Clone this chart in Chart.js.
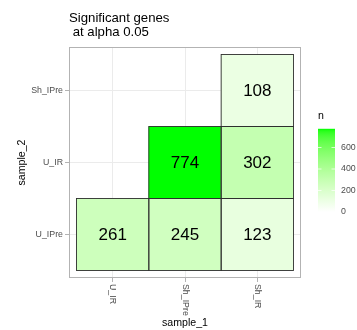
<!DOCTYPE html>
<html>
<head>
<meta charset="utf-8">
<script src="https://cdn.jsdelivr.net/npm/chart.js@4/dist/chart.umd.min.js"></script>
<style>
  html, body { margin: 0; padding: 0; background: #ffffff; }
  #wrap { width: 357px; height: 330px; }
</style>
</head>
<body>
<div id="wrap"><canvas id="heat" width="357" height="330"></canvas></div>
<script>
// Axis categories
const sample1 = ['U_IR', 'Sh_IPre', 'Sh_IR'];
const sample2 = ['U_IPre', 'U_IR', 'Sh_IPre'];

// One entry per tile: which pair, and how many significant genes
const cellSample1 = ['U_IR', 'Sh_IPre', 'Sh_IR', 'Sh_IPre', 'Sh_IR', 'Sh_IR'];
const cellSample2 = ['U_IPre', 'U_IPre', 'U_IPre', 'U_IR', 'U_IR', 'Sh_IPre'];
const nGenes = [261, 245, 123, 774, 302, 108];

// Colour scale
const nLimits = [0, 774];
const nTicks = [0, 200, 400, 600];
const lowColour = [255, 255, 255];
const highColour = [0, 255, 0];

const FONT = "'Liberation Sans', Arial, Helvetica, sans-serif";

// --- Lab interpolation between the low and high colours ---
function toLin(c) { c /= 255; return c <= 0.04045 ? c / 12.92 : Math.pow((c + 0.055) / 1.055, 2.4); }
function fromLin(c) {
  const v = c <= 0.0031308 ? 12.92 * c : 1.055 * Math.pow(c, 1 / 2.4) - 0.055;
  return Math.round(Math.max(0, Math.min(1, v)) * 255);
}
const WX = 0.95047, WY = 1.0, WZ = 1.08883;
function rgbToLab(rgb) {
  const R = toLin(rgb[0]), G = toLin(rgb[1]), B = toLin(rgb[2]);
  const X = (0.4124564 * R + 0.3575761 * G + 0.1804375 * B) / WX;
  const Y = (0.2126729 * R + 0.7151522 * G + 0.0721750 * B) / WY;
  const Z = (0.0193339 * R + 0.1191920 * G + 0.9503041 * B) / WZ;
  const f = t => t > 0.008856 ? Math.cbrt(t) : 7.787 * t + 16 / 116;
  const fx = f(X), fy = f(Y), fz = f(Z);
  return [116 * fy - 16, 500 * (fx - fy), 200 * (fy - fz)];
}
function labToRgb(lab) {
  const fy = (lab[0] + 16) / 116, fx = fy + lab[1] / 500, fz = fy - lab[2] / 200;
  const inv = t => { const t3 = t * t * t; return t3 > 0.008856 ? t3 : (t - 16 / 116) / 7.787; };
  const X = inv(fx) * WX, Y = inv(fy) * WY, Z = inv(fz) * WZ;
  const R = 3.2404542 * X - 1.5371385 * Y - 0.4985314 * Z;
  const G = -0.9692660 * X + 1.8760108 * Y + 0.0415560 * Z;
  const B = 0.0556434 * X - 0.2040259 * Y + 1.0572252 * Z;
  return [fromLin(R), fromLin(G), fromLin(B)];
}
const labLow = rgbToLab(lowColour), labHigh = rgbToLab(highColour);
function fillFor(n) {
  const t = Math.max(0, Math.min(1, (n - nLimits[0]) / (nLimits[1] - nLimits[0])));
  const lab = labLow.map((v, i) => v + (labHigh[i] - v) * t);
  const c = labToRgb(lab);
  return 'rgb(' + c[0] + ',' + c[1] + ',' + c[2] + ')';
}

// Tiles as floating bars: x = column index, y = [row - 0.5, row + 0.5]
const tiles = nGenes.map((n, i) => {
  const r = sample2.indexOf(cellSample2[i]);
  return { x: sample1.indexOf(cellSample1[i]), y: [r - 0.5, r + 0.5], n: n };
});

const PAD = 0.604;

const decorations = {
  id: 'decorations',
  afterDatasetsDraw(chart) {
    const ctx = chart.ctx;
    const meta = chart.getDatasetMeta(0);
    ctx.save();
    meta.data.forEach((el, i) => {
      const p = el.getProps(['x', 'y', 'base', 'width'], true);
      const top = Math.min(p.y, p.base), h = Math.abs(p.base - p.y);
      ctx.strokeStyle = '#2e2e2e';
      ctx.lineWidth = 0.9;
      ctx.strokeRect(p.x - p.width / 2, top, p.width, h);
      ctx.fillStyle = '#000000';
      ctx.font = '17px ' + FONT;
      ctx.textAlign = 'center';
      ctx.textBaseline = 'middle';
      ctx.fillText(String(tiles[i].n), p.x, top + h / 2 + 1);
    });
    ctx.restore();
  },
  afterDraw(chart) {
    const ctx = chart.ctx;
    const a = chart.chartArea;
    const xs = chart.scales.x;
    ctx.save();

    // panel border
    ctx.strokeStyle = '#b3b3b3';
    ctx.lineWidth = 1;
    ctx.strokeRect(a.left + 0.5, a.top + 0.5, a.right - a.left - 1, a.bottom - a.top - 1);

    // x tick labels, turned to read downwards
    ctx.fillStyle = '#4d4d4d';
    ctx.font = '8.8px ' + FONT;
    ctx.textAlign = 'left';
    ctx.textBaseline = 'middle';
    sample1.forEach((lab, i) => {
      const px = xs.getPixelForValue(i);
      ctx.save();
      ctx.translate(px, a.bottom + 6);
      ctx.rotate(Math.PI / 2);
      ctx.fillText(lab, 0, 0);
      ctx.restore();
    });

    // title
    ctx.fillStyle = '#000000';
    ctx.font = '13.2px ' + FONT;
    ctx.textAlign = 'left';
    ctx.textBaseline = 'middle';
    ctx.fillText('Significant genes', a.left, 18);
    ctx.fillText(' at alpha 0.05', a.left, 32);

    // axis titles
    ctx.font = '10.6px ' + FONT;
    ctx.textAlign = 'center';
    ctx.fillText('sample_1', (a.left + a.right) / 2, 323);
    ctx.save();
    ctx.translate(22, (a.top + a.bottom) / 2);
    ctx.rotate(-Math.PI / 2);
    ctx.fillText('sample_2', 0, 0);
    ctx.restore();

    // colour bar legend
    const barL = 318, barW = 17, barBottom = 212, pxPerUnit = 0.1075;
    const barTop = barBottom - (nLimits[1] - nLimits[0]) * pxPerUnit;
    const grad = ctx.createLinearGradient(0, barBottom, 0, barTop);
    for (let k = 0; k <= 40; k++) {
      const v = nLimits[0] + (nLimits[1] - nLimits[0]) * k / 40;
      grad.addColorStop(k / 40, fillFor(v));
    }
    ctx.fillStyle = grad;
    ctx.fillRect(barL, barTop, barW, barBottom - barTop);

    ctx.strokeStyle = 'rgba(255,255,255,0.9)';
    ctx.lineWidth = 0.8;
    ctx.font = '8.8px ' + FONT;
    ctx.textAlign = 'left';
    ctx.textBaseline = 'middle';
    nTicks.forEach(v => {
      const py = barBottom - (v - nLimits[0]) * pxPerUnit;
      ctx.beginPath();
      ctx.moveTo(barL, py); ctx.lineTo(barL + 3.5, py);
      ctx.moveTo(barL + barW - 3.5, py); ctx.lineTo(barL + barW, py);
      ctx.stroke();
      ctx.fillStyle = '#4d4d4d';
      ctx.fillText(String(v), 341, py);
    });
    ctx.fillStyle = '#000000';
    ctx.font = '10.6px ' + FONT;
    ctx.fillText('n', barL, 116);

    ctx.restore();
  }
};

new Chart(document.getElementById('heat'), {
  type: 'bar',
  data: {
    datasets: [{
      data: tiles,
      backgroundColor: c => fillFor(c.raw ? c.raw.n : 0),
      borderWidth: 0,
      barPercentage: 1,
      categoryPercentage: 1
    }]
  },
  options: {
    responsive: false,
    animation: false,
    events: [],
    layout: { padding: { top: 47, right: 56, left: 0, bottom: 0 } },
    plugins: { legend: { display: false }, tooltip: { enabled: false }, title: { display: false } },
    scales: {
      x: {
        type: 'linear',
        offset: false,
        bounds: 'data',
        min: -PAD, max: sample1.length - 1 + PAD,
        afterBuildTicks: s => { s.ticks = sample1.map((_, i) => ({ value: i })); },
        afterFit: s => { s.height = 52; },
        grid: { offset: false, color: '#ebebeb', lineWidth: 1, tickColor: '#b3b3b3', tickLength: 4 },
        border: { display: false },
        ticks: { display: false }
      },
      y: {
        type: 'linear',
        offset: false,
        bounds: 'data',
        min: -PAD, max: sample2.length - 1 + PAD,
        afterBuildTicks: s => { s.ticks = sample2.map((_, i) => ({ value: i })); },
        afterFit: s => { s.width = 69; },
        grid: { offset: false, color: '#ebebeb', lineWidth: 1, tickColor: '#b3b3b3', tickLength: 4 },
        border: { display: false },
        ticks: {
          color: '#4d4d4d',
          font: { family: FONT, size: 8.8 },
          padding: 2,
          callback: v => sample2[v] !== undefined ? sample2[v] : ''
        }
      }
    }
  },
  plugins: [decorations]
});
</script>
</body>
</html>
